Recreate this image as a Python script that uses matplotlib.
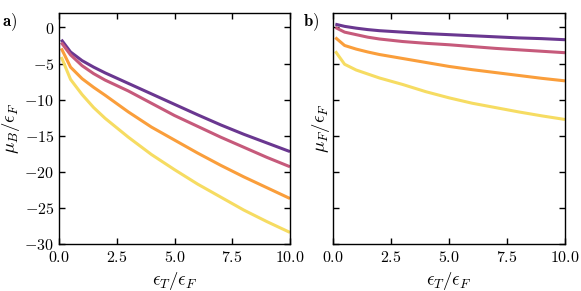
import matplotlib
matplotlib.use("Agg")
import matplotlib.pyplot as plt
from matplotlib.ticker import FuncFormatter

plt.rcParams['mathtext.fontset'] = 'cm'
plt.rcParams['font.family'] = 'DejaVu Serif'

eps_T = [0.1, 0.5, 1.0, 1.5, 2.0, 3.0, 4.0, 5.0, 6.0, 7.0, 8.0, 9.0, 10.0]

mu_B_purple = [-1.7, -3.4, -4.6, -5.5, -6.3, -7.75, -9.2, -10.65, -12.1, -13.5, -14.8, -16.0, -17.2]
mu_B_pink   = [-2.1, -3.8, -5.3, -6.4, -7.3, -8.8, -10.5, -12.2, -13.7, -15.2, -16.6, -18.0, -19.3]
mu_B_orange = [-2.9, -5.5, -7.1, -8.3, -9.4, -11.7, -13.8, -15.6, -17.4, -19.1, -20.7, -22.2, -23.7]
mu_B_yellow = [-4.1, -7.2, -9.3, -11.1, -12.6, -15.2, -17.6, -19.7, -21.7, -23.5, -25.3, -26.9, -28.4]

mu_F_purple = [0.45, 0.15, -0.1, -0.3, -0.45, -0.65, -0.85, -1.0, -1.15, -1.3, -1.45, -1.55, -1.7]
mu_F_pink   = [0.0, -0.65, -1.0, -1.35, -1.6, -1.95, -2.2, -2.4, -2.65, -2.9, -3.1, -3.3, -3.5]
mu_F_orange = [-1.4, -2.5, -3.0, -3.4, -3.75, -4.3, -4.85, -5.4, -5.85, -6.25, -6.65, -7.05, -7.4]
mu_F_yellow = [-3.3, -5.1, -5.9, -6.45, -7.0, -7.9, -8.9, -9.75, -10.5, -11.1, -11.7, -12.25, -12.75]

colors = ['#6a3790', '#c65a7b', '#fa9e3b', '#f6dc62']

fig = plt.figure(figsize=(5.81, 2.91), dpi=100)
ax1 = fig.add_axes([59/581, 1-244/291, 231/581, 231/291])
ax2 = fig.add_axes([333/581, 1-244/291, 232/581, 231/291], sharey=ax1)

fmt = FuncFormatter(lambda v, p: '$%g$' % v)

for ax, series in [(ax1, [mu_B_purple, mu_B_pink, mu_B_orange, mu_B_yellow]),
                   (ax2, [mu_F_purple, mu_F_pink, mu_F_orange, mu_F_yellow])]:
    for s, c in zip(series, colors):
        ax.plot(eps_T, s, color=c, lw=2.2, solid_capstyle='butt')
    ax.set_xlim(0, 10)
    ax.set_ylim(-30, 2)
    ax.set_xticks([0, 2.5, 5, 7.5, 10])
    ax.xaxis.set_major_formatter(FuncFormatter(lambda v, p: '$%.1f$' % v))
    ax.set_yticks([-30, -25, -20, -15, -10, -5, 0])
    ax.yaxis.set_major_formatter(fmt)
    ax.tick_params(direction='in', top=True, right=True, labelsize=11.5, length=4, width=1)
    ax.set_xlabel(r'$\epsilon_T/\epsilon_F$', fontsize=13.5, labelpad=3)
    for sp in ax.spines.values():
        sp.set_linewidth(1)

ax1.set_ylabel(r'$\mu_B/\epsilon_F$', fontsize=13.5, labelpad=2)
ax2.set_ylabel(r'$\mu_F/\epsilon_F$', fontsize=13.5, labelpad=1)
plt.setp(ax2.get_yticklabels(), visible=False)

fig.text(2/581, 1-22/291, r'$\mathbf{a)}$', fontsize=12, va='center')
fig.text(303/581, 1-22/291, r'$\mathbf{b)}$', fontsize=12, va='center')

fig.savefig('out.png', dpi=100)
